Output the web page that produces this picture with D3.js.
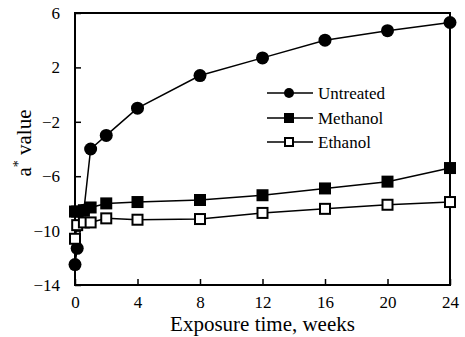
<!DOCTYPE html>
<html>
<head>
<meta charset="utf-8">
<script src="https://cdn.jsdelivr.net/npm/d3@7"></script>
<style>
  body { margin: 0; background: #fff; }
  text { font-family: "Liberation Serif", "Times New Roman", serif; fill: #000; }
</style>
</head>
<body>
<div id="chart"></div>
<script>
// exposure times (weeks) shared by all series
const weeks = [0, 0.14, 0.57, 1, 2, 4, 8, 12, 16, 20, 24];
const untreated = [-12.5, -11.3, -8.5, -4.0, -3.0, -1.0, 1.4, 2.7, 4.0, 4.7, 5.3];
const methanol = [-8.6, -8.6, -8.5, -8.3, -8.0, -7.9, -7.75, -7.4, -6.9, -6.4, -5.4];
const ethanol = [-10.6, -9.6, -9.4, -9.4, -9.1, -9.2, -9.15, -8.7, -8.4, -8.1, -7.9];
const xTicks = [0, 4, 8, 12, 16, 20, 24];
const yTicks = [-14, -10, -6, -2, 2, 6];
const seriesNames = ["Untreated", "Methanol", "Ethanol"];

const width = 465, height = 337;
const margin = {top: 13, right: 15, bottom: 52, left: 75};

const svg = d3.select("#chart").append("svg")
    .attr("width", width)
    .attr("height", height);

const x = d3.scaleLinear().domain([0, 24]).range([margin.left, width - margin.right]);
const y = d3.scaleLinear().domain([-14, 6]).range([height - margin.bottom, margin.top]);

// frame
svg.append("rect")
    .attr("x", x(0)).attr("y", y(6))
    .attr("width", x(24) - x(0)).attr("height", y(-14) - y(6))
    .attr("fill", "none").attr("stroke", "#000").attr("stroke-width", 2);

// axes with inward ticks
const xAxis = svg.append("g")
    .attr("transform", `translate(0,${y(-14)})`)
    .call(d3.axisBottom(x).tickValues(xTicks).tickSizeInner(-6).tickSizeOuter(0).tickPadding(11));
const yAxis = svg.append("g")
    .attr("transform", `translate(${x(0)},0)`)
    .call(d3.axisLeft(y).tickValues(yTicks).tickSizeInner(-6).tickSizeOuter(0).tickPadding(15));

[xAxis, yAxis].forEach(a => {
    a.select(".domain").remove();
    a.selectAll(".tick line").attr("stroke", "#000").attr("stroke-width", 1.5);
    a.selectAll(".tick text").style("font-size", "17px").style("font-family", "Liberation Serif, serif");
});

// axis titles
svg.append("text")
    .attr("x", (x(0) + x(24)) / 2)
    .attr("y", 331)
    .attr("text-anchor", "middle")
    .style("font-size", "21px")
    .text("Exposure time, weeks");

const yt = svg.append("text")
    .attr("transform", `translate(31,143) rotate(-90)`)
    .attr("text-anchor", "middle")
    .style("font-size", "21px");
yt.append("tspan").text("a");
yt.append("tspan").attr("dy", -8).style("font-size", "14px").text("*");
yt.append("tspan").attr("dy", 8).text(" value");

// series
const line = d3.line().x((d, i) => x(weeks[i])).y(d => y(d));
const all = [untreated, methanol, ethanol];

all.forEach(vals => {
    svg.append("path")
        .datum(vals)
        .attr("d", line)
        .attr("fill", "none")
        .attr("stroke", "#000")
        .attr("stroke-width", 1.5);
});

function drawMarker(g, kind, cx, cy, r) {
    if (kind === 0) {
        g.append("circle").attr("cx", cx).attr("cy", cy).attr("r", r).attr("fill", "#000");
    } else if (kind === 1) {
        g.append("rect")
            .attr("x", cx - r).attr("y", cy - r)
            .attr("width", 2 * r).attr("height", 2 * r)
            .attr("fill", "#000");
    } else {
        g.append("rect")
            .attr("x", cx - r + 1).attr("y", cy - r + 1)
            .attr("width", 2 * r - 2).attr("height", 2 * r - 2)
            .attr("fill", "#fff")
            .attr("stroke", "#000")
            .attr("stroke-width", 2);
    }
}

// untreated first, then methanol, ethanol on top
[0, 1, 2].forEach(k => {
    const g = svg.append("g");
    all[k].forEach((v, i) => {
        drawMarker(g, k, x(weeks[i]), y(v), k === 0 ? 6.5 : 6);
    });
});

// legend
const legendY = [93, 118, 142];
seriesNames.forEach((name, k) => {
    const g = svg.append("g");
    g.append("line")
        .attr("x1", 267).attr("x2", 313)
        .attr("y1", legendY[k]).attr("y2", legendY[k])
        .attr("stroke", "#000").attr("stroke-width", 1.5);
    drawMarker(g, k, 289, legendY[k], 5);
    g.append("text")
        .attr("x", 318).attr("y", legendY[k])
        .attr("dy", "0.35em")
        .style("font-size", "17px")
        .text(name);
});
</script>
</body>
</html>
